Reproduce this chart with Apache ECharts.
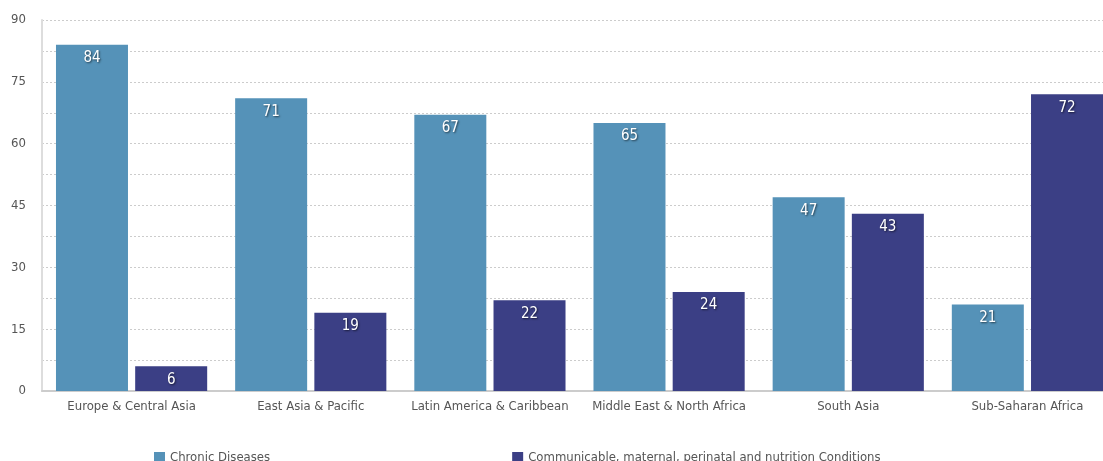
<!DOCTYPE html>
<html><head><meta charset="utf-8">
<script src="https://cdn.jsdelivr.net/npm/echarts@6/dist/echarts.min.js"></script>
<style>html,body{margin:0;padding:0;background:#fff;overflow:hidden;width:1103px;height:461px}#c{width:1117px;height:461px}</style>
</head><body><div id="c"></div>
<script>
const categories = ["Europe & Central Asia","East Asia & Pacific","Latin America & Caribbean","Middle East & North Africa","South Asia","Sub-Saharan Africa"];
const chronic = [84,71,67,65,47,21];
const communicable = [6,19,22,24,43,72];
const seriesNames = ["Chronic Diseases","Communicable, maternal, perinatal and nutrition Conditions"];
const FONT = "DejaVu Sans Condensed";
const chart = echarts.init(document.getElementById('c'));
const lbl = {show:true, position:'insideTop', distance:6, color:'#fff', fontFamily:FONT, fontSize:15,
  textShadowColor:'rgba(0,0,0,0.6)', textShadowBlur:2, textShadowOffsetX:1, textShadowOffsetY:1};
chart.setOption({
  animation:false,
  textStyle:{fontFamily:FONT},
  grid:{left:42, right:0, top:20, height:371, containLabel:false},
  legend:{left:149, top:446, itemWidth:11, itemHeight:11, itemGap:242, icon:'rect',
    textStyle:{color:'#555', fontSize:13, fontFamily:FONT}, data:seriesNames},
  xAxis:{type:'category', data:categories,
    axisLine:{lineStyle:{color:'#ccc', width:2}}, axisTick:{show:false},
    axisLabel:{color:'#555', fontSize:13, margin:9, interval:0, fontFamily:FONT}},
  yAxis:{type:'value', min:0, max:90, interval:7.5,
    axisLine:{show:true, lineStyle:{color:'#ddd', width:2}}, axisTick:{show:false},
    axisLabel:{color:'#555', fontSize:13, margin:16, fontFamily:FONT,
      formatter:v => (Math.round(v) % 15 === 0 && Math.abs(v-Math.round(v))<1e-6) ? String(Math.round(v)) : ''},
    splitLine:{show:true, lineStyle:{color:'#ccc', type:[2,2], width:1}}},
  series:[
    {name:seriesNames[0], type:'bar', data:chronic, barWidth:72, barGap:'10%',
     itemStyle:{color:'#5592B8'}, label:lbl},
    {name:seriesNames[1], type:'bar', data:communicable, barWidth:72,
     itemStyle:{color:'#3B3F85'}, label:lbl}
  ]
});
</script></body></html>
